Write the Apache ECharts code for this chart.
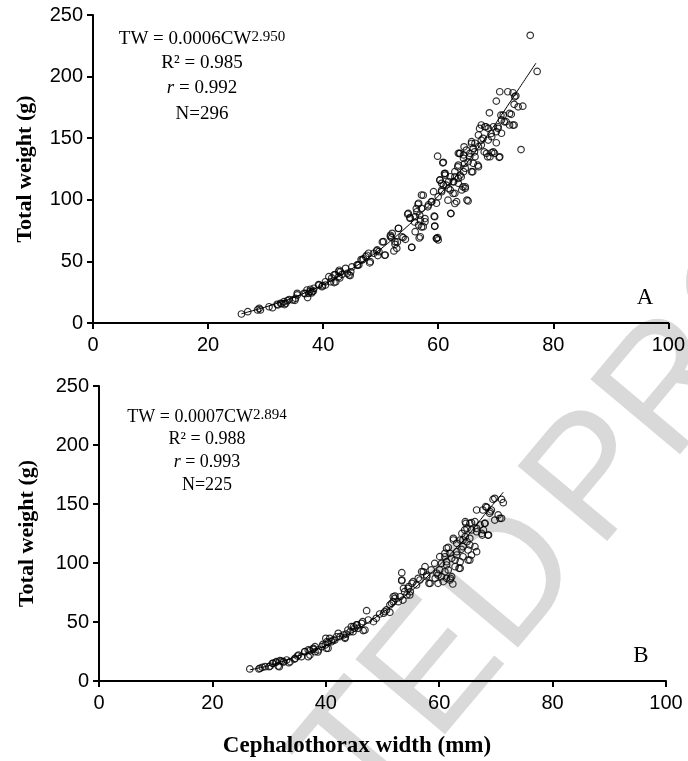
<!DOCTYPE html>
<html>
<head>
<meta charset="utf-8">
<script src="https://cdn.jsdelivr.net/npm/echarts@6/dist/echarts.min.js"></script>
<style>
html,body{margin:0;padding:0;background:#fff;}
#chart{width:688px;height:761px;}
</style>
</head>
<body>
<div id="chart"></div>
<script>
// Panel A: cephalothorax width (mm) vs total weight (g), N=296
const pointsA = [
[25.8,7.3],[26.9,9.2],[28.6,10.6],[28.9,11.9],[29.1,10.6],[30.6,13.2],[31.2,12.4],[32.0,15.2],[32.1,14.6],[32.6,16.0],[32.8,15.7],[33.2,17.3],[33.3,14.9],[33.5,16.0],[33.8,18.1],[34.1,19.0],[34.7,18.7],[35.1,18.4],[35.2,20.0],[35.5,22.8],[35.5,24.1],[36.7,24.1],[36.9,23.8],[37.2,26.8],[37.3,20.6],[37.5,24.1],[37.7,25.7],[37.8,27.4],[38.0,24.4],[38.1,25.4],[38.3,26.0],[38.4,28.2],[39.2,31.1],[39.3,30.8],[39.8,29.5],[39.9,30.3],[40.4,30.8],[40.4,33.5],[41.0,37.6],[41.3,33.5],[41.5,36.6],[41.9,32.8],[41.9,39.0],[42.1,39.3],[42.2,33.5],[42.7,37.6],[42.7,41.6],[42.8,42.8],[42.9,36.6],[43.0,41.6],[43.3,39.5],[43.9,44.4],[44.2,40.3],[44.5,39.0],[44.7,38.5],[44.8,41.6],[45.0,45.5],[45.9,47.1],[46.0,46.9],[46.2,47.1],[46.6,51.5],[46.8,51.1],[47.0,52.0],[47.4,53.8],[47.6,55.0],[47.9,56.6],[48.1,48.8],[48.2,49.8],[48.8,56.6],[49.3,58.5],[49.4,59.3],[49.5,54.7],[49.7,57.9],[50.3,65.8],[50.5,66.0],[50.7,55.0],[50.8,55.2],[51.7,71.2],[51.7,70.0],[51.9,69.3],[52.0,72.8],[52.3,58.5],[52.5,63.9],[52.5,66.0],[52.8,60.6],[52.9,65.8],[53.1,76.7],[53.1,76.9],[53.7,70.0],[53.9,69.3],[54.3,67.9],[54.7,88.3],[54.8,89.0],[55.1,85.6],[55.1,85.0],[55.4,61.5],[55.4,61.4],[55.9,82.0],[56.0,86.3],[56.0,74.1],[56.2,92.9],[56.3,90.3],[56.5,96.4],[56.6,97.2],[56.6,79.5],[56.7,69.0],[56.8,87.5],[56.9,83.6],[56.9,70.0],[57.1,78.0],[57.1,93.1],[57.1,103.9],[57.4,103.7],[57.4,78.2],[57.7,84.8],[57.7,82.2],[58.2,94.3],[58.3,95.8],[58.8,98.3],[58.9,98.5],[59.2,106.6],[59.3,86.7],[59.4,78.5],[59.4,86.3],[59.4,78.7],[59.7,68.5],[59.7,97.2],[59.7,68.7],[59.9,69.3],[60.0,67.4],[59.9,135.4],[60.0,102.5],[60.3,115.9],[60.3,116.1],[60.6,107.8],[60.6,113.4],[60.6,106.6],[60.8,130.0],[60.9,112.0],[60.9,130.4],[61.1,121.3],[61.2,120.1],[61.2,121.5],[61.4,111.9],[61.7,99.7],[61.8,114.7],[61.8,109.3],[62.1,108.0],[62.1,118.7],[62.2,88.8],[62.2,89.0],[62.6,105.1],[62.6,114.7],[62.7,114.6],[62.9,97.0],[62.9,118.7],[62.9,105.3],[62.9,122.8],[63.2,98.5],[63.4,126.8],[63.5,113.4],[63.5,117.4],[63.5,128.2],[63.5,137.7],[63.7,137.6],[63.8,120.1],[63.8,137.7],[64.0,118.6],[64.1,108.0],[64.3,110.5],[64.4,122.8],[64.4,133.7],[64.4,136.4],[64.5,143.0],[64.6,129.5],[64.7,110.6],[64.7,125.6],[64.7,109.3],[64.9,140.4],[65.0,99.8],[65.2,99.1],[65.2,130.9],[65.5,134.9],[65.5,137.7],[65.8,145.7],[65.8,122.8],[65.8,147.2],[66.0,122.7],[66.1,129.6],[66.1,141.8],[66.3,138.9],[66.4,135.0],[66.4,145.9],[66.9,128.1],[67.0,126.9],[67.0,143.1],[67.0,152.6],[67.2,157.9],[67.5,148.4],[67.5,144.5],[67.5,160.7],[67.8,149.9],[68.0,138.9],[68.1,159.3],[68.3,159.3],[68.4,137.7],[68.6,134.9],[68.7,148.5],[68.7,158.0],[68.9,170.6],[69.0,135.0],[69.2,153.8],[69.3,138.3],[69.3,151.2],[69.6,138.9],[69.6,159.3],[69.8,137.7],[70.1,180.1],[70.1,146.3],[70.1,155.3],[70.4,159.3],[70.4,158.0],[70.6,134.5],[70.7,187.7],[70.7,134.9],[70.9,168.7],[71.0,154.0],[71.0,164.8],[71.3,168.8],[71.5,163.3],[71.8,163.4],[72.1,187.7],[72.4,170.1],[72.4,160.7],[72.7,169.4],[73.0,160.6],[73.0,186.9],[73.2,177.5],[73.2,160.7],[73.3,183.6],[73.5,184.4],[73.9,175.5],[74.4,140.8],[74.7,176.0],[76.0,233.5],[77.2,204.2]
];
const fitWidthA  = [25.8, 30, 35, 40, 45, 50, 55, 60, 65, 70, 74, 77];
const fitWeightA = [7.5, 13, 21, 31, 44, 60, 80, 103, 130, 162, 190, 211];

// Panel B: N=225
const pointsB = [
[26.6,10.2],[28.2,10.2],[28.4,10.8],[28.8,11.6],[29.3,12.1],[30.0,12.1],[30.2,12.7],[30.6,15.0],[30.7,15.0],[31.2,15.8],[31.3,16.4],[31.6,12.7],[31.8,12.1],[31.9,17.2],[32.2,16.9],[32.5,16.4],[32.6,16.1],[33.1,17.8],[33.5,15.5],[33.7,16.4],[34.5,18.6],[34.6,19.2],[35.0,21.2],[35.2,22.0],[35.7,20.6],[36.3,24.9],[36.3,24.8],[36.9,20.6],[36.9,26.3],[37.2,25.7],[37.2,22.0],[37.8,26.8],[37.8,27.7],[38.1,29.1],[38.1,24.8],[38.6,24.6],[38.7,26.3],[39.3,29.1],[39.5,31.1],[39.9,30.5],[40.0,36.2],[40.1,27.7],[40.2,33.3],[40.4,32.5],[40.4,27.7],[40.7,36.2],[41.0,33.3],[41.3,34.7],[41.6,34.7],[41.9,37.5],[42.2,40.4],[42.5,37.6],[43.1,39.0],[43.4,37.0],[43.4,36.2],[43.6,39.8],[43.9,43.2],[44.3,41.8],[44.5,46.0],[44.8,41.8],[44.9,46.0],[45.1,44.7],[45.4,47.5],[45.5,47.5],[45.7,44.6],[46.3,48.9],[46.5,50.3],[46.6,42.7],[46.9,43.2],[47.2,59.6],[47.5,51.7],[48.4,50.3],[48.9,53.1],[49.5,56.8],[50.2,57.4],[50.4,58.8],[50.7,60.2],[51.3,58.2],[51.3,64.4],[51.6,65.8],[51.9,67.2],[51.9,71.4],[52.2,72.0],[52.2,70.0],[52.8,67.2],[53.1,71.4],[53.4,91.8],[53.4,85.0],[53.4,85.6],[53.6,68.6],[53.7,78.5],[53.9,75.7],[54.3,72.9],[54.5,78.5],[54.6,79.9],[54.8,72.9],[54.9,75.7],[55.2,82.8],[55.4,84.2],[56.0,81.4],[56.3,87.0],[56.6,85.6],[56.9,92.7],[57.2,92.6],[57.5,96.9],[57.8,89.8],[57.8,88.4],[58.2,82.8],[58.4,82.8],[58.6,94.1],[59.2,99.7],[59.3,87.0],[59.6,91.3],[59.8,89.8],[59.8,82.8],[60.1,105.4],[60.1,94.1],[60.4,99.7],[60.4,88.4],[60.7,84.2],[61.0,108.2],[61.0,92.6],[61.0,105.3],[61.3,101.1],[61.3,112.5],[61.3,98.3],[61.3,87.0],[61.6,113.3],[61.6,94.1],[61.9,108.2],[61.9,85.6],[62.0,87.0],[62.2,104.0],[62.2,88.4],[62.4,82.2],[62.5,119.5],[62.5,120.9],[62.8,102.5],[62.8,96.9],[63.1,109.6],[63.1,106.8],[63.1,116.7],[63.5,95.5],[63.7,101.1],[63.7,119.5],[63.7,95.5],[63.9,111.6],[64.0,125.1],[64.2,119.5],[64.2,113.8],[64.2,105.3],[64.5,128.0],[64.6,122.3],[64.6,135.0],[64.7,133.6],[64.9,118.0],[64.9,129.4],[65.1,102.5],[65.1,111.0],[65.4,115.3],[65.4,120.9],[65.4,133.6],[65.4,102.5],[65.7,134.2],[65.7,106.8],[65.7,128.0],[66.3,113.8],[66.3,135.0],[66.6,129.4],[66.6,126.5],[66.6,109.6],[66.6,144.9],[67.2,132.2],[67.5,125.1],[67.6,123.7],[67.7,144.9],[67.8,128.0],[68.0,133.6],[68.1,133.6],[68.2,147.7],[68.4,147.2],[68.6,123.7],[68.7,123.7],[68.9,142.1],[69.0,143.5],[69.2,144.9],[69.5,153.9],[69.8,136.4],[69.8,154.8],[70.4,140.7],[70.7,137.9],[71.0,137.9],[71.0,153.9],[71.3,151.1]
];
const fitWidthB  = [26.6, 30, 35, 40, 45, 50, 55, 60, 65, 68, 71.3];
const fitWeightB = [9.5, 13, 21, 30, 42, 58, 76, 98, 123, 141, 160];

const xTitle = 'Cephalothorax width (mm)';
const yTitle = 'Total weight (g)';
const annA = ['TW = 0.0006CW', '2.950', 'R² = 0.985', '0.992', 'N=296'];
const annB = ['TW = 0.0007CW', '2.894', 'R² = 0.988', '0.993', 'N=225'];

const serif = '"Liberation Serif", "Times New Roman", serif';
const sans = '"Liberation Sans", Arial, sans-serif';

function xAx(gi) {
  return {
    type: 'value', gridIndex: gi, min: 0, max: 100, interval: 20,
    axisLine: { show: true, onZero: false, lineStyle: { color: '#000', width: 2 } },
    axisTick: { show: true, length: 6, lineStyle: { color: '#000', width: 2 } },
    axisLabel: { fontFamily: sans, fontSize: 20, color: '#000', margin: 12 },
    splitLine: { show: false }
  };
}
function yAx(gi, gap) {
  return {
    type: 'value', gridIndex: gi, min: 0, max: 250, interval: 50,
    name: yTitle, nameLocation: 'middle', nameGap: gap, nameRotate: 90,
    nameTextStyle: { fontFamily: serif, fontWeight: 'bold', fontSize: 22, color: '#000' },
    axisLine: { show: true, onZero: false, lineStyle: { color: '#000', width: 2 } },
    axisTick: { show: true, length: 6, lineStyle: { color: '#000', width: 2 } },
    axisLabel: { fontFamily: sans, fontSize: 20, color: '#000', margin: 10 },
    splitLine: { show: false }
  };
}
function scat(pts, gi) {
  return {
    type: 'scatter', xAxisIndex: gi, yAxisIndex: gi, data: pts,
    symbol: 'circle', symbolSize: 6.5,
    itemStyle: { color: 'rgba(255,255,255,0)', borderColor: '#000', borderWidth: 1.2 },
    emphasis: { disabled: true }, z: 3
  };
}
function fit(xs, ys, gi) {
  return {
    type: 'line', xAxisIndex: gi, yAxisIndex: gi,
    data: xs.map((x, i) => [x, ys[i]]),
    showSymbol: false, smooth: 0.3,
    lineStyle: { color: '#000', width: 1 }, z: 4, emphasis: { disabled: true }
  };
}
function annotation(ann, cx, ys, fs) {
  const rich = {
    n: { fontFamily: serif, fontSize: fs, color: '#000' },
    i: { fontFamily: serif, fontSize: fs, color: '#000', fontStyle: 'italic' },
    s: { fontFamily: serif, fontSize: 15, color: '#000', verticalAlign: 'top', lineHeight: fs }
  };
  const mk = (txt, y) => ({
    type: 'text', x: cx, y: y, z: 10,
    style: { text: txt, rich: rich, align: 'center', verticalAlign: 'middle', fill: '#000' }
  });
  return [
    mk('{n|' + ann[0] + '}{s|' + ann[1] + '}', ys[0]),
    mk('{n|' + ann[2] + '}', ys[1]),
    mk('{i|r}{n| = ' + ann[3] + '}', ys[2]),
    mk('{n|' + ann[4] + '}', ys[3])
  ];
}

const chart = echarts.init(document.getElementById('chart'), null, { renderer: 'canvas' });
const wmSize = 170;
const wmStyle = { fontFamily: sans, fontSize: wmSize, fill: '#d9d9d9', verticalAlign: 'middle' };
const rot = 50 * Math.PI / 180;
const accX = 552, accY = 534, gapW = 16;
chart.setOption({
  animation: false,
  backgroundColor: '#fff',
  grid: [
    { left: 93, top: 15, width: 578, height: 308 },
    { left: 99, top: 386, width: 567, height: 295 }
  ],
  xAxis: [xAx(0), xAx(1)],
  yAxis: [yAx(0, 57), yAx(1, 61)],
  series: [
    scat(pointsA, 0), fit(fitWidthA, fitWeightA, 0),
    scat(pointsB, 1), fit(fitWidthB, fitWeightB, 1)
  ],
  graphic: [
    { type: 'text', x: accX, y: accY, rotation: rot, z: 0,
      style: Object.assign({ text: 'ACCEPTED', align: 'right' }, wmStyle) },
    { type: 'text', x: accX + gapW * Math.cos(rot), y: accY - gapW * Math.sin(rot), rotation: rot, z: 0,
      style: Object.assign({ text: 'PROOF', align: 'left' }, wmStyle) },
    ...annotation(annA, 202, [39, 63, 88, 114], 19),
    ...annotation(annB, 207, [417, 439, 462, 485], 18),
    { type: 'text', x: 645, y: 298, z: 10, style: { text: 'A', fontFamily: serif, fontSize: 23, fill: '#000', align: 'center', verticalAlign: 'middle' } },
    { type: 'text', x: 641, y: 656, z: 10, style: { text: 'B', fontFamily: serif, fontSize: 23, fill: '#000', align: 'center', verticalAlign: 'middle' } },
    { type: 'text', x: 357, y: 746, z: 10, style: { text: xTitle, fontFamily: serif, fontWeight: 'bold', fontSize: 23, fill: '#000', align: 'center', verticalAlign: 'middle' } }
  ]
});
</script>
</body>
</html>
